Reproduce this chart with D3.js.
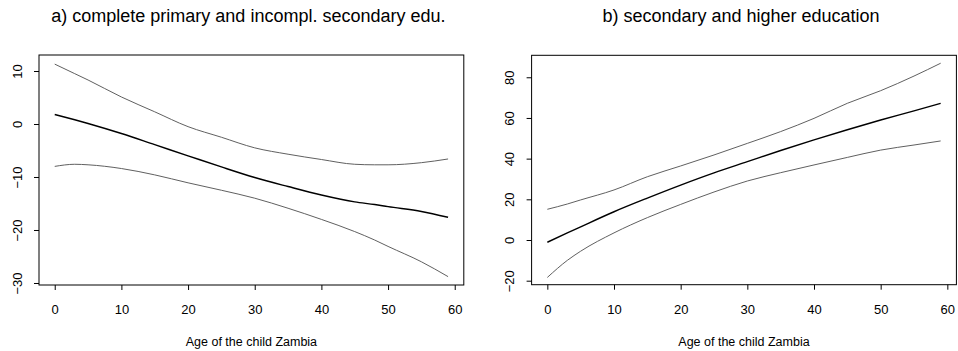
<!DOCTYPE html>
<html>
<head>
<meta charset="utf-8">
<script src="https://cdn.jsdelivr.net/npm/d3@7"></script>
<style>
  body { margin: 0; background: #fff; }
  svg { font-family: "Liberation Sans", Arial, sans-serif; }
</style>
</head>
<body>
<svg id="chart" width="958" height="351"></svg>
<script>
const agesA = [0, 3, 5, 10, 15, 20, 25, 30, 35, 40, 45, 48, 50, 55, 59];
const fitA = [1.8, 0.8, 0.1, -1.8, -3.9, -6.0, -8.1, -10.1, -11.8, -13.4, -14.7, -15.2, -15.6, -16.5, -17.6];
const upperA = [11.3, 9.5, 8.3, 5.1, 2.3, -0.5, -2.5, -4.5, -5.7, -6.7, -7.6, -7.7, -7.7, -7.3, -6.6];
const lowerA = [-8.0, -7.6, -7.7, -8.4, -9.6, -11.1, -12.5, -14.0, -15.9, -18.0, -20.3, -21.9, -23.1, -26.0, -28.8];

const agesB = [0, 3, 5, 10, 15, 20, 25, 30, 35, 40, 45, 50, 55, 59];
const fitB = [-1.1, 3.5, 6.5, 13.9, 20.6, 27.0, 33.0, 38.5, 44.0, 49.2, 54.2, 59.0, 63.5, 67.2];
const upperB = [15.1, 17.7, 19.7, 24.6, 31.1, 36.4, 41.8, 47.5, 53.3, 59.8, 67.2, 73.4, 80.6, 86.9];
const lowerB = [-18.4, -10.0, -5.5, 3.5, 11.0, 17.5, 23.6, 29.0, 33.1, 36.9, 40.6, 44.2, 46.7, 48.7];

const xTicks = [0, 10, 20, 30, 40, 50, 60];
const yTicksA = [-30, -20, -10, 0, 10];
const yTicksB = [-20, 0, 20, 40, 60, 80];

const titleA = "a) complete primary and incompl. secondary edu.";
const titleB = "b) secondary and higher education";
const xLabel = "Age of the child Zambia";

const svg = d3.select("#chart");

function panel(opts) {
  const { left, right, top, bottom } = opts.box;
  const x = d3.scaleLinear().domain([-2.36, 61.36]).range([left, right]);
  const y = d3.scaleLinear().domain(opts.yDomain).range([bottom, top]);
  const g = svg.append("g");

  const line = d3.line()
    .x((d) => x(d[0]))
    .y((d) => y(d[1]))
    .curve(d3.curveMonotoneX);

  const series = [
    { v: opts.upper, color: "#606060", w: 1 },
    { v: opts.lower, color: "#606060", w: 1 },
    { v: opts.fit, color: "#000", w: 1.4 }
  ];
  series.forEach((s) => {
    g.append("path")
      .datum(opts.ages.map((a, i) => [a, s.v[i]]))
      .attr("fill", "none")
      .attr("stroke", s.color)
      .attr("stroke-width", s.w)
      .attr("d", line);
  });

  // box
  g.append("rect")
    .attr("x", left).attr("y", top)
    .attr("width", right - left).attr("height", bottom - top)
    .attr("fill", "none").attr("stroke", "#000").attr("stroke-width", 1);

  const xAxis = g.append("g")
    .attr("transform", `translate(0,${bottom})`)
    .call(d3.axisBottom(x).tickValues(xTicks).tickSize(5).tickPadding(15).tickFormat(d3.format("d")));
  xAxis.select(".domain").remove();
  xAxis.selectAll("text").attr("font-size", 13).attr("fill", "#000").attr("font-family", null);

  const yAxis = g.append("g")
    .attr("transform", `translate(${left},0)`)
    .call(d3.axisLeft(y).tickValues(opts.yTicks).tickSize(5).tickFormat(d3.format("d")));
  yAxis.select(".domain").remove();
  yAxis.selectAll("text")
    .attr("font-size", 13).attr("fill", "#000").attr("font-family", null)
    .attr("x", 0).attr("dy", 0)
    .attr("text-anchor", "middle")
    .attr("transform", "translate(-17.5,0) rotate(-90)");

  g.append("text")
    .attr("x", (left + right) / 2 - 3).attr("y", 22)
    .attr("text-anchor", "middle")
    .attr("font-size", 18)
    .text(opts.title);

  g.append("text")
    .attr("x", (left + right) / 2).attr("y", 346)
    .attr("text-anchor", "middle")
    .attr("font-size", 12.5)
    .text(xLabel);
}

panel({
  box: { left: 39, right: 463.8, top: 55, bottom: 285 },
  yDomain: [-30.38, 13.02],
  yTicks: yTicksA,
  ages: agesA, fit: fitA, upper: upperA, lower: lowerA,
  title: titleA
});

panel({
  box: { left: 531.6, right: 956.4, top: 55.3, bottom: 284.7 },
  yDomain: [-21.97, 90.8],
  yTicks: yTicksB,
  ages: agesB, fit: fitB, upper: upperB, lower: lowerB,
  title: titleB
});
</script>
</body>
</html>
